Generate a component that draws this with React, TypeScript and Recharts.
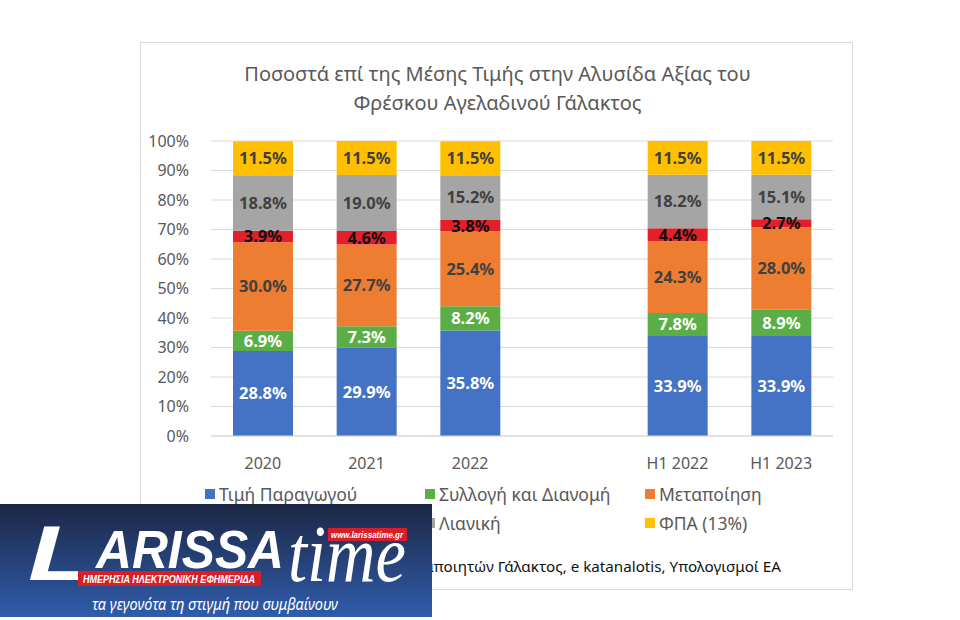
import React from 'react';
import { BarChart, Bar, XAxis, YAxis, CartesianGrid, LabelList } from 'recharts';

// categories (empty one = gap between yearly and half-year bars)
const categories = ['2020', '2021', '2022', '', 'H1 2022', 'H1 2023'];

const producerPrice = [28.8, 29.9, 35.8, null, 33.9, 33.9];
const collection = [6.9, 7.3, 8.2, null, 7.8, 8.9];
const processing = [30.0, 27.7, 25.4, null, 24.3, 28.0];
const transport = [3.9, 4.6, 3.8, null, 4.4, 2.7];
const retail = [18.8, 19.0, 15.2, null, 18.2, 15.1];
const vat = [11.5, 11.5, 11.5, null, 11.5, 11.5];

const yTicks = [0, 10, 20, 30, 40, 50, 60, 70, 80, 90, 100];

const seriesNames = ['Τιμή Παραγωγού', 'Συλλογή και Διανομή', 'Μεταποίηση', 'Μεταφορά', 'Λιανική', 'ΦΠΑ (13%)'];
const seriesKeys = ['producer', 'collection', 'processing', 'transport', 'retail', 'vat'];
const seriesColors = ['#4472C4', '#5BAE45', '#ED7D31', '#E3202A', '#A5A5A5', '#FFC000'];
const labelColors = ['#ffffff', '#ffffff', '#404040', '#111111', '#404040', '#404040'];

const seriesValues = [producerPrice, collection, processing, transport, retail, vat];

const data = categories.map((name, i) => {
  const row: Record<string, string | number | null> = { name };
  seriesKeys.forEach((k, s) => {
    row[k] = seriesValues[s][i];
  });
  return row;
});

const FONT = '"Noto Sans", "Open Sans", sans-serif';

const fmt = (v: any) => (v === null || v === undefined ? '' : `${Number(v).toFixed(1)}%`);

const Logo: React.FC = () => (
  <svg width={432} height={113} style={{ position: 'absolute', left: 0, top: 504 }}>
    <defs>
      <linearGradient id="logoBg" x1="0" y1="0" x2="0" y2="1">
        <stop offset="0%" stopColor="#1d2745" />
        <stop offset="100%" stopColor="#2f5cab" />
      </linearGradient>
    </defs>
    <rect x={0} y={0} width={432} height={113} fill="url(#logoBg)" />
    <text x={28} y={76} fill="#fff" fontSize={78} fontWeight={900} fontStyle="italic" fontFamily="Liberation Sans" textLength={66} lengthAdjust="spacingAndGlyphs">L</text>
    <text x={96} y={64} fill="#fff" fontSize={54} fontWeight={900} fontStyle="italic" fontFamily="Liberation Sans" textLength={188} lengthAdjust="spacingAndGlyphs">ARISSA</text>
    <text x={288} y={77} fill="#fff" fontSize={80} fontStyle="italic" fontFamily="Liberation Serif" textLength={118} lengthAdjust="spacingAndGlyphs">time</text>
    <rect x={328} y={24} width={79} height={13} fill="#d81e28" />
    <text x={367} y={34} fill="#fff" fontSize={9.5} fontWeight={700} fontStyle="italic" fontFamily="Liberation Sans" textAnchor="middle" textLength={72} lengthAdjust="spacingAndGlyphs">www.larissatime.gr</text>
    <rect x={78} y={67} width={183} height={15} fill="#d81e28" />
    <text x={169} y={79} fill="#fff" fontSize={11} fontWeight={700} fontStyle="italic" fontFamily="Liberation Sans" textAnchor="middle" textLength={172} lengthAdjust="spacingAndGlyphs">ΗΜΕΡΗΣΙΑ ΗΛΕΚΤΡΟΝΙΚΗ ΕΦΗΜΕΡΙΔΑ</text>
    <text x={215} y={106} fill="#fff" fontSize={16} fontStyle="italic" fontFamily={FONT} textAnchor="middle" textLength={246} lengthAdjust="spacingAndGlyphs">τα γεγονότα τη στιγμή που συμβαίνουν</text>
  </svg>
);

const App: React.FC = () => {
  return (
    <div style={{ position: 'absolute', left: 0, top: 0, width: 960, height: 620, background: '#fff', fontFamily: FONT, overflow: 'hidden' }}>
      <div style={{ position: 'absolute', left: 140, top: 42, width: 713, height: 548, border: '1px solid #d9d9d9', boxSizing: 'border-box' }}>
        <div style={{ position: 'absolute', left: 0, top: 16, width: 713, textAlign: 'center', color: '#595959', fontSize: 20, lineHeight: '29px' }}>
          Ποσοστά επί της Μέσης Τιμής στην Αλυσίδα Αξίας του
          <br />
          Φρέσκου Αγελαδινού Γάλακτος
        </div>
        <div style={{ position: 'absolute', left: 0, top: 0 }}>
          <BarChart width={713} height={548} data={data} margin={{ top: 98, right: 21, left: 0, bottom: 125 }} barSize={60}>
            <CartesianGrid vertical={false} stroke="#d9d9d9" />
            <XAxis
              dataKey="name"
              axisLine={{ stroke: '#d9d9d9' }}
              tickLine={false}
              tickMargin={16}
              height={30}
              tick={{ fill: '#595959', fontSize: 16, fontFamily: FONT }}
            />
            <YAxis
              width={70}
              domain={[0, 100]}
              allowDataOverflow
              ticks={yTicks}
              tickFormatter={(v) => `${v}%`}
              axisLine={false}
              tickLine={false}
              tickMargin={16}
              tick={{ fill: '#595959', fontSize: 16, fontFamily: FONT }}
            />
            {seriesKeys.map((k, s) => (
              <Bar key={k} dataKey={k} name={seriesNames[s]} stackId="a" fill={seriesColors[s]} isAnimationActive={false}>
                <LabelList
                  dataKey={k}
                  position="center"
                  formatter={fmt}
                  fill={labelColors[s]}
                  style={{ fontSize: 16.5, fontWeight: 700, fontFamily: FONT }}
                />
              </Bar>
            ))}
          </BarChart>
        </div>
        {/* legend, 3 columns x 2 rows */}
        <div style={{ position: 'absolute', left: 64, top: 440, width: 660, display: 'grid', gridTemplateColumns: '220px 220px 220px', rowGap: 7 }}>
          {seriesNames.map((n, s) => (
            <div key={n} style={{ display: 'flex', alignItems: 'center', height: 22, color: '#595959', fontSize: 17.5 }}>
              <span style={{ display: 'inline-block', width: 10, height: 10, background: seriesColors[s], marginRight: 4 }} />
              {n}
            </div>
          ))}
        </div>
        <div style={{ position: 'absolute', right: 71, top: 513, color: '#111', fontSize: 15.2, whiteSpace: 'nowrap' }}>
          Πηγή: ΕΛΓΟ-ΔΗΜΗΤΡΑ, Σύνδεσμος Μεταποιητών Γάλακτος, e katanalotis, Υπολογισμοί ΕΑ
        </div>
      </div>
      <Logo />
    </div>
  );
};

export default App;
